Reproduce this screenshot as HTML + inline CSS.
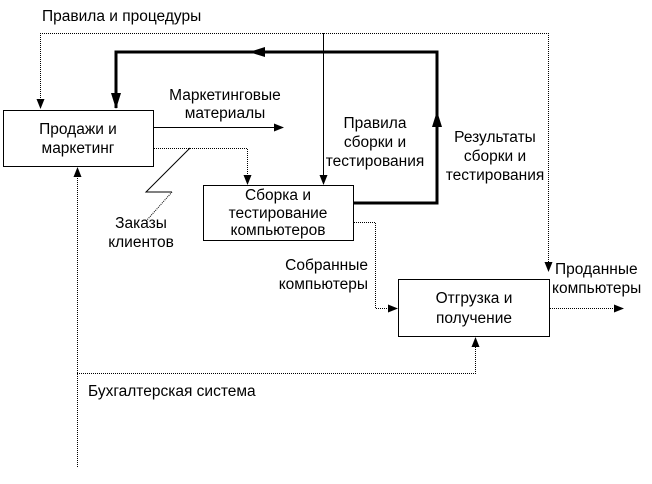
<!DOCTYPE html>
<html><head><meta charset="utf-8"><style>
body{margin:0;background:#fff}
svg{display:block}
text{font-family:"Liberation Sans",sans-serif;font-size:15.5px;fill:#000}
</style></head><body>
<svg width="652" height="484" viewBox="0 0 652 484">
<defs>
<marker id="a" markerWidth="10" markerHeight="8" refX="9" refY="4" orient="auto" markerUnits="userSpaceOnUse"><path d="M0,0 L10,4 L0,8z" fill="#000"/></marker>
<marker id="b" markerWidth="16" markerHeight="10" refX="15" refY="5" orient="auto" markerUnits="userSpaceOnUse"><path d="M0,0 L16,5 L0,10z" fill="#000"/></marker>
</defs>
<g fill="none" stroke="#000" stroke-width="1">
<rect x="3.5" y="110.5" width="150" height="56"/>
<rect x="203.5" y="185.5" width="150" height="55"/>
<rect x="398.5" y="279.5" width="151" height="57"/>
<path d="M40,33.5 H548" stroke-dasharray="1,1"/>
<path d="M40.5,33 V108" stroke-dasharray="1,1" marker-end="url(#a)"/>
<path d="M548.5,33 V271" stroke-dasharray="1,1" marker-end="url(#a)"/>
<path d="M323.5,33 V184" marker-end="url(#a)"/>
<path d="M353,203 H437 V52 H116 V108" stroke-width="3" fill="none"/>
<path d="M437,140 V112" stroke-width="3" marker-end="url(#b)"/>
<path d="M270,52 H250" stroke-width="3" marker-end="url(#b)"/>
<path d="M116,90 V108" stroke-width="3" marker-end="url(#b)"/>
<path d="M154,127.5 H283" marker-end="url(#a)"/>
<path d="M154,148.5 H247.5 V184" stroke-dasharray="1,1" marker-end="url(#a)"/>
<path d="M190,148 L146,192 H172"/>
<path d="M172,192 L147,220" stroke-dasharray="1,1"/>
<path d="M354,222.5 H375.5 V308.5 H397" stroke-dasharray="1,1" marker-end="url(#a)"/>
<path d="M550,308.5 H623" stroke-dasharray="1,1" marker-end="url(#a)"/>
<path d="M77.5,467 V168" stroke-dasharray="1,1" marker-end="url(#a)"/>
<path d="M77,373.5 H475.5 V338" stroke-dasharray="1,1" marker-end="url(#a)"/>
</g>
<text x="42" y="21">Правила и процедуры</text>
<text x="78" y="134" text-anchor="middle">Продажи и</text>
<text x="78" y="153" text-anchor="middle">маркетинг</text>
<text x="278" y="200" text-anchor="middle">Сборка и</text>
<text x="278" y="218" text-anchor="middle">тестирование</text>
<text x="278" y="235" text-anchor="middle">компьютеров</text>
<text x="474" y="303" text-anchor="middle">Отгрузка и</text>
<text x="474" y="323" text-anchor="middle">получение</text>
<text x="225" y="100" text-anchor="middle">Маркетинговые</text>
<text x="225" y="118" text-anchor="middle">материалы</text>
<text x="375" y="128" text-anchor="middle">Правила</text>
<text x="375" y="147" text-anchor="middle">сборки и</text>
<text x="375" y="166" text-anchor="middle">тестирования</text>
<text x="495" y="142" text-anchor="middle">Результаты</text>
<text x="495" y="161" text-anchor="middle">сборки и</text>
<text x="495" y="180" text-anchor="middle">тестирования</text>
<text x="141" y="228" text-anchor="middle">Заказы</text>
<text x="141" y="247" text-anchor="middle">клиентов</text>
<text x="368" y="270" text-anchor="end">Собранные</text>
<text x="368" y="289" text-anchor="end">компьютеры</text>
<text x="555" y="274">Проданные</text>
<text x="552" y="293">компьютеры</text>
<text x="88" y="396">Бухгалтерская система</text>
</svg>
</body></html>
